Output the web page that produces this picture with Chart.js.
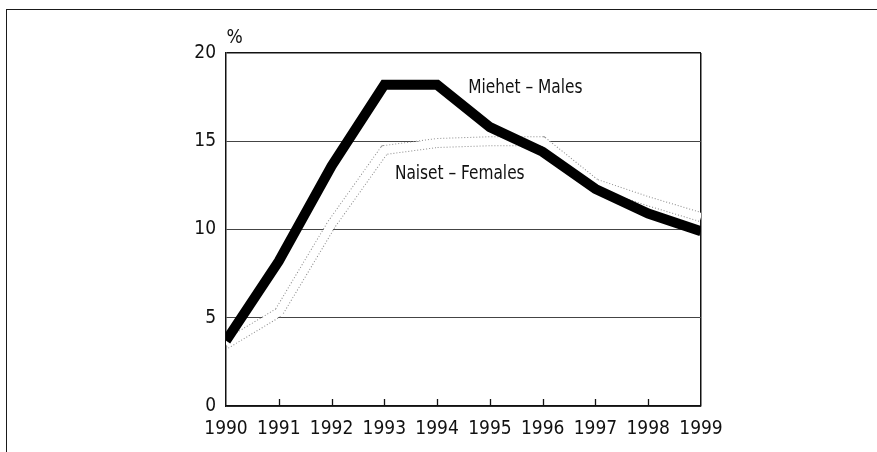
<!DOCTYPE html>
<html><head><meta charset="utf-8">
<script src="https://cdn.jsdelivr.net/npm/chart.js@4"></script>
<style>
html,body{margin:0;padding:0;background:#fff;}
#wrap{position:relative;width:877px;height:452px;overflow:hidden;}
#frame{position:absolute;left:6px;top:9px;width:900px;height:500px;border-top:1.5px solid #1a1a1a;border-left:1.5px solid #1a1a1a;}
canvas{position:absolute;left:0;top:0;}
</style></head>
<body><div id="wrap"><div id="frame"></div><canvas id="c" width="877" height="452"></canvas></div>
<script>
const years = [1990, 1991, 1992, 1993, 1994, 1995, 1996, 1997, 1998, 1999];
const males = [3.7, 8.2, 13.6, 18.2, 18.2, 15.8, 14.4, 12.3, 10.9, 9.9];
const females = [3.5, 5.3, 10.3, 14.5, 14.9, 15.0, 15.0, 12.6, 11.6, 10.7];
const yTicks = [0, 5, 10, 15, 20];
const maleLabel = 'Miehet – Males';
const femaleLabel = 'Naiset – Females';
const unitLabel = '%';

const FONT = "'Liberation Sans Narrow', 'Arial Narrow', 'DejaVu Sans Condensed', sans-serif";
const pts = arr => years.map((yr, i) => ({x: yr, y: arr[i]}));

function condensedText(ctx, text, px, py, sx) {
  ctx.save();
  ctx.translate(px, py);
  ctx.scale(sx, 1);
  ctx.fillText(text, 0, 0);
  ctx.restore();
}

const annot = {
  id: 'annot',
  afterDatasetsDraw(chart) {
    const {ctx, chartArea: a, scales: {x, y}} = chart;
    ctx.save();
    ctx.strokeStyle = '#111';
    ctx.lineWidth = 1.3;
    years.slice(1, -1).forEach(yr => {
      const px = Math.round(x.getPixelForValue(yr)) + 0.5;
      ctx.beginPath();
      ctx.moveTo(px, a.bottom);
      ctx.lineTo(px, a.bottom - 7);
      ctx.stroke();
    });
    ctx.fillStyle = '#111';
    ctx.font = '19px ' + FONT;
    ctx.textBaseline = 'middle';
    ctx.textAlign = 'left';
    condensedText(ctx, maleLabel, x.getPixelForValue(1994.59), y.getPixelForValue(18.0), 0.9);
    condensedText(ctx, femaleLabel, x.getPixelForValue(1993.2), y.getPixelForValue(13.15), 0.9);
    ctx.fillText(unitLabel, a.left + 0.5, a.top - 15);
    ctx.restore();
  }
};

new Chart(document.getElementById('c'), {
  type: 'line',
  data: {
    datasets: [
      {order: 3, data: pts(females), borderColor: '#8a8a8a', borderWidth: 10, borderDash: [1, 2], pointRadius: 0, tension: 0, borderJoinStyle: 'miter', borderCapStyle: 'butt'},
      {order: 2, data: pts(females), borderColor: '#ffffff', borderWidth: 8, pointRadius: 0, tension: 0, borderJoinStyle: 'miter', borderCapStyle: 'butt'},
      {order: 1, data: pts(males), borderColor: '#000000', borderWidth: 10, pointRadius: 0, tension: 0, borderJoinStyle: 'miter', borderCapStyle: 'butt'}
    ]
  },
  options: {
    responsive: false,
    animation: false,
    devicePixelRatio: 1,
    layout: {padding: {left: 0, right: 176, top: 53, bottom: 0}},
    plugins: {legend: {display: false}, tooltip: {enabled: false}},
    scales: {
      x: {
        type: 'linear', min: years[0], max: years[years.length - 1],
        afterFit: s => { s.height = 46; },
        afterBuildTicks: s => { s.ticks = years.map(v => ({value: v})); },
        grid: {
          drawTicks: false,
          color: c => (c.tick && c.tick.value === years[years.length - 1]) ? '#111' : 'rgba(0,0,0,0)',
          lineWidth: 1.5
        },
        border: {color: '#111', width: 1.5},
        ticks: {padding: 12, autoSkip: false, maxRotation: 0, color: '#111', font: {family: FONT, size: 19}, callback: v => String(v)}
      },
      y: {
        min: 0, max: 20,
        afterFit: s => { s.width = 226; },
        afterBuildTicks: s => { s.ticks = yTicks.map(v => ({value: v})); },
        grid: {
          drawTicks: false,
          color: c => (c.tick && c.tick.value === 20) ? '#111' : '#444',
          lineWidth: c => (c.tick && c.tick.value === 20) ? 1.5 : 1
        },
        border: {color: '#111', width: 1.5},
        ticks: {padding: 10, color: '#111', font: {family: FONT, size: 19}}
      }
    }
  },
  plugins: [annot]
});
</script>
</body></html>
